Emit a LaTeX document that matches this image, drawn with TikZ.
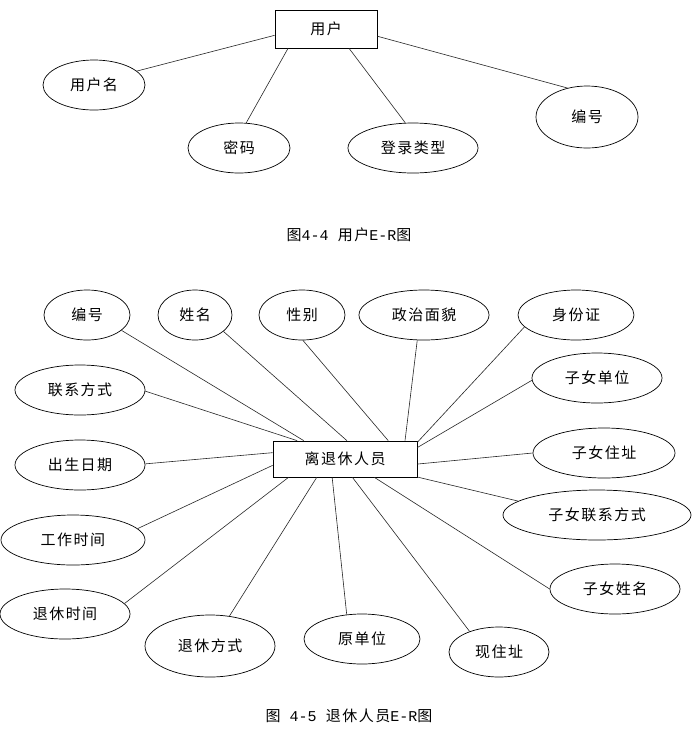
\documentclass[tikz,border=0pt]{standalone}
\usepackage{fontspec}
\newfontfamily\cjk[LetterSpace=10]{Noto Sans CJK SC}
\newfontfamily\capmono{Liberation Mono}
\usetikzlibrary{shapes.geometric}
\tikzset{
  ent/.style={draw, line width=0.7pt, rectangle, inner sep=0pt, font=\cjk\fontsize{15}{18}\selectfont},
  attr/.style={draw, line width=0.7pt, ellipse, inner sep=0pt, font=\cjk\fontsize{15}{18}\selectfont},
  link/.style={line width=0.6pt, black!85},
  captext/.style={font=\cjk\fontsize{15}{18}\selectfont, inner sep=0pt}
}
\begin{document}
\begin{tikzpicture}[x=1pt,y=-1pt]
\useasboundingbox (0,0) rectangle (697,732);
\fill[white] (0,0) rectangle (697,732);
% ---- top diagram ----
\node[ent, minimum width=102pt, minimum height=38pt] (u) at (326,29) {用户};
\node[attr, minimum width=102pt, minimum height=50pt] (uname) at (94,85) {用户名};
\node[attr, minimum width=102pt, minimum height=50pt] (upw) at (239,148) {密码};
\node[attr, minimum width=130pt, minimum height=50pt] (utype) at (413,148) {登录类型};
\node[attr, minimum width=102pt, minimum height=62pt] (uid) at (587,117) {编号};
\draw[link] (u.187.8) -- (uname.18);
\draw[link] (u.207.8) -- (upw.74);
\draw[link] (u.-40.8) -- (utype.107.7);
\draw[link] (u.-8.9) -- (uid.124);
\node[captext] (cap1) at (349,235) {图{\capmono 4-4 }用户{\capmono E-R}图};
% ---- bottom diagram ----
\node[ent, minimum width=144pt, minimum height=36pt] (r) at (345,459) {离退休人员};
\node[attr, minimum width=86pt, minimum height=50pt] (bh) at (87,315) {编号};
\node[attr, minimum width=74pt, minimum height=50pt] (xm) at (195,315) {姓名};
\node[attr, minimum width=86pt, minimum height=50pt] (xb) at (302,315) {性别};
\node[attr, minimum width=130pt, minimum height=50pt] (zz) at (424,315) {政治面貌};
\node[attr, minimum width=116pt, minimum height=50pt] (sfz) at (576,315) {身份证};
\node[attr, minimum width=130pt, minimum height=50pt] (zndw) at (597,378) {子女单位};
\node[attr, minimum width=142pt, minimum height=50pt] (znzz) at (604,453) {子女住址};
\node[attr, minimum width=188pt, minimum height=50pt] (znlx) at (597,515) {子女联系方式};
\node[attr, minimum width=130pt, minimum height=50pt] (znxm) at (615,589) {子女姓名};
\node[attr, minimum width=100pt, minimum height=50pt] (xzz) at (499,652) {现住址};
\node[attr, minimum width=116pt, minimum height=50pt] (ydw) at (362,639) {原单位};
\node[attr, minimum width=130pt, minimum height=62pt] (txfs) at (210,646) {退休方式};
\node[attr, minimum width=130pt, minimum height=50pt] (txsj) at (65,614) {退休时间};
\node[attr, minimum width=144pt, minimum height=50pt] (gzsj) at (73,540) {工作时间};
\node[attr, minimum width=130pt, minimum height=50pt] (csrq) at (80,465) {出生日期};
\node[attr, minimum width=130pt, minimum height=50pt] (lxfs) at (80,390) {联系方式};
\draw[link] (r.156.2) -- (bh.-24.1);
\draw[link] (r.84) -- (xm.-30.6);
\draw[link] (r.23.8) -- (xb.-88);
\draw[link] (r.17.9) -- (zz.-105);
\draw[link] (r.13.3) -- (sfz.-167.4);
\draw[link] (r.9.5) -- (zndw.-178);
\draw[link] (r.-4.8) -- (znzz.180);
\draw[link] (r.-14) -- (znlx.170.3);
\draw[link] (r.-32.7) -- (znxm.180);
\draw[link] (r.-68.7) -- (xzz.145.2);
\draw[link] (r.-125.8) -- (ydw.122);
\draw[link] (r.-147.3) -- (txfs.57.2);
\draw[link] (r.-162.8) -- (txsj.10.5);
\draw[link] (r.-175.2) -- (gzsj.10.2);
\draw[link] (r.175.2) -- (csrq.1);
\draw[link] (r.159.2) -- (lxfs.-1);
\node[captext] (cap2) at (349,716) {图{\capmono\ 4-5 }退休人员{\capmono E-R}图};
\end{tikzpicture}
\end{document}
